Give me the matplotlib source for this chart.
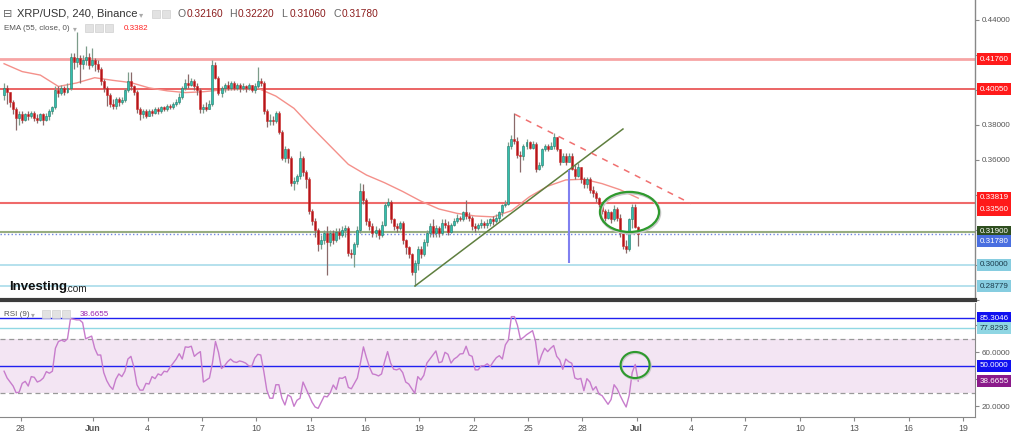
import numpy as np
import matplotlib
matplotlib.use("Agg")
import matplotlib.pyplot as plt
from matplotlib.patches import Ellipse, Rectangle

# ---------------- data ----------------
bars_per_day = 6
first_open = 0.397
closes = [
    .401, .399, .393, .389, .384, .386, .383, .386, .385, .387,
    .384, .383, .386, .383, .385, .388, .390, .400, .398, .401,
    .399, .401, .419, .416, .418, .415, .417, .419, .414, .417,
    .415, .412, .405, .401, .397, .392, .391, .395, .393, .394,
    .400, .405, .402, .399, .389, .386, .388, .385, .388, .387,
    .389, .388, .390, .389, .391, .390, .392, .393, .396, .401,
    .404, .403, .405, .402, .400, .389, .390, .389, .392, .414,
    .407, .398, .401, .403, .401, .404, .401, .403, .401, .402,
    .401, .403, .400, .402, .405, .404, .388, .382, .383, .382,
    .387, .376, .361, .366, .361, .347, .348, .351, .361, .353,
    .349, .331, .325, .320, .312, .314, .318, .313, .318, .314,
    .319, .317, .320, .321, .307, .306, .312, .320, .342, .337,
    .325, .322, .318, .320, .317, .323, .334, .336, .326, .322,
    .321, .324, .314, .310, .306, .296, .301, .309, .306, .313,
    .318, .322, .318, .321, .318, .324, .323, .319, .323, .325,
    .327, .326, .330, .328, .327, .322, .321, .323, .324, .323,
    .324, .326, .325, .327, .330, .334, .335, .368, .372, .371,
    .363, .362, .368, .370, .367, .369, .355, .357, .366, .368,
    .366, .368, .373, .366, .359, .362, .359, .362, .355, .351,
    .356, .349, .346, .349, .343, .341, .338, .335, .331, .327,
    .330, .326, .332, .327, .318, .311, .309, .326, .333, .3216,
    .3178,
]
highs = [
    .404, .403, .399, .394, .390, .388, .388, .387, .388, .388,
    .388, .386, .387, .387, .387, .389, .391, .402, .402, .403,
    .402, .404, .421, .421, .433, .420, .420, .425, .421, .424,
    .418, .417, .413, .406, .402, .398, .395, .396, .396, .396,
    .401, .410, .410, .403, .400, .390, .389, .389, .389, .389,
    .390, .390, .391, .391, .392, .392, .393, .395, .398, .402,
    .406, .409, .407, .406, .404, .401, .392, .393, .394, .417,
    .416, .408, .402, .404, .405, .405, .405, .404, .404, .404,
    .403, .404, .403, .404, .413, .407, .405, .389, .386, .385,
    .388, .388, .377, .368, .367, .362, .350, .352, .365, .362,
    .354, .350, .332, .327, .321, .317, .320, .322, .320, .320,
    .321, .321, .322, .323, .322, .309, .313, .322, .347, .346,
    .338, .327, .324, .322, .321, .325, .336, .338, .337, .327,
    .324, .325, .325, .315, .311, .307, .303, .311, .311, .315,
    .320, .324, .326, .323, .322, .326, .326, .325, .324, .327,
    .329, .328, .331, .337, .330, .328, .324, .324, .326, .325,
    .326, .327, .328, .329, .331, .335, .337, .370, .374, .387,
    .373, .365, .369, .372, .371, .371, .370, .359, .367, .369,
    .369, .370, .3754, .373, .366, .364, .364, .364, .364, .357,
    .358, .356, .350, .350, .350, .345, .342, .339, .336, .332,
    .332, .331, .334, .333, .329, .319, .314, .327, .335, .3349,
    .3222,
]
lows = [
    .394, .392, .390, .386, .377, .380, .381, .382, .383, .384,
    .382, .381, .382, .380, .382, .383, .386, .389, .396, .397,
    .397, .398, .400, .412, .413, .404, .412, .414, .412, .413,
    .411, .410, .403, .399, .391, .390, .389, .389, .391, .392,
    .393, .399, .400, .397, .387, .383, .384, .384, .385, .385,
    .386, .386, .387, .388, .388, .389, .389, .391, .392, .395,
    .400, .401, .402, .400, .397, .387, .387, .388, .389, .391,
    .406, .397, .396, .399, .400, .400, .400, .400, .399, .400,
    .399, .400, .399, .398, .401, .402, .386, .379, .380, .380,
    .381, .375, .360, .359, .358, .345, .343, .346, .349, .351,
    .344, .329, .323, .316, .308, .309, .312, .294, .311, .312,
    .313, .315, .316, .316, .305, .304, .299, .310, .318, .335,
    .323, .320, .316, .316, .315, .316, .322, .333, .324, .320,
    .319, .320, .312, .306, .304, .294, .2878, .297, .304, .305,
    .311, .316, .316, .316, .316, .317, .321, .317, .318, .322,
    .324, .325, .325, .326, .325, .320, .319, .320, .321, .321,
    .321, .322, .323, .324, .325, .328, .333, .334, .366, .369,
    .361, .353, .360, .366, .366, .366, .353, .354, .356, .365,
    .365, .366, .366, .365, .357, .359, .357, .360, .354, .349,
    .350, .347, .344, .344, .341, .339, .336, .333, .329, .325,
    .326, .324, .325, .325, .316, .309, .307, .308, .321, .321,
    .3106,
]
rsi = [
    46, 41, 38, 35, 30, 30.5, 37, 38.5, 35, 42,
    41.5, 38, 39, 41, 45.7, 44.5, 46, 63, 68, 69,
    68, 70, 85, 84.5, 84, 84, 82, 70, 71, 72,
    63, 58, 58, 45, 39, 35, 32.5, 40, 44, 42,
    46, 55, 57, 49, 36, 32, 32, 37, 36.5, 42,
    40.5, 44, 43, 46, 45.5, 49, 52, 55, 59, 55,
    64, 63.7, 64.5, 57, 59, 60.5, 38, 39.5, 41, 52,
    68, 60, 48, 50, 53, 55, 53, 52.5, 53.6, 53,
    52, 50, 49.5, 55.6, 58.5, 58, 46, 32, 26, 26,
    36, 36, 26, 21, 28.5, 27, 20, 24.5, 26, 38,
    33, 28, 23, 19.5, 18.5, 23, 27.5, 27, 30, 35.8,
    32.5, 41, 40.7, 42, 34, 33, 37, 41, 52, 64,
    56, 49, 44, 43.5, 42.5, 44, 53, 60.5, 52, 47.5,
    47, 48, 45, 38, 36.5, 33, 29.6, 42, 39.5, 43,
    52, 55, 58, 61, 52.3, 53, 60, 58.5, 52, 55,
    56.5, 58.8, 59, 64.5, 58, 57, 47, 47, 50, 50,
    51.5, 49.5, 53, 56, 57.5, 55, 65.5, 69, 86.4, 86.4,
    80, 69.6, 71, 73, 74.5, 76, 68, 51, 58, 63,
    60.5, 63, 65, 57, 54.3, 47.4, 55, 53, 51.9, 41,
    40, 40.7, 31.6, 40.5, 38, 32, 34.6, 29, 28, 24.7,
    21.5, 25, 36, 33, 28, 23.5, 19.5, 28, 45, 51,
    38.6655,
]
ema_step = 6  # one EMA reading per day
ema_vals = [
    .4150, .4105, .4085, .4020, .4040, .4070, .4055, .4042, .4012, .3995,
    .3985, .3990, .4000, .4004, .4010, .3965, .3895, .3785, .3680, .3575,
    .3514, .3470, .3420, .3365, .3320, .3295, .3280, .3275, .3310, .3390,
    .3450, .3486, .3490, .3465, .3430, .3382,
]

tick_days = [1, 5, 8, 11, 14, 17, 20, 23, 26, 29, 32, 35, 38, 41, 44, 47, 50, 53]
tick_labels = ["28", "Jun", "4", "7", "10", "13", "16", "19", "22", "25", "28",
               "Jul", "4", "7", "10", "13", "16", "19"]

price_ticks = [0.28, 0.30, 0.32, 0.34, 0.36, 0.38, 0.40, 0.42, 0.44]
price_tick_labels = ["", "", "", "", "0.36000", "0.38000", "", "", "0.44000"]
rsi_ticks = [20, 40, 60, 80]
rsi_tick_labels = ["20.0000", "", "60.0000", ""]

# horizontal price levels: value, colour, width, style
h_levels = [0.41760, 0.40050, 0.33560, 0.31900, 0.31780, 0.30000, 0.28779]
h_colors = ["#f7a5a5", "#e84a4a", "#ef6a6a", "#98ad80", "#6f86e0", "#a9dcea", "#a9dcea"]
h_widths = [2.0, 1.2, 1.5, 1.5, 1.0, 1.2, 1.2]
h_styles = ["-", "-", "-", "-", ":", "-", "-"]

# price scale labels: text value, display position, face, text colour
lab_vals = ["0.41760", "0.40050", "0.33819", "0.33560", "0.31900", "0.31780", "0.30000", "0.28779"]
lab_pos = [0.41760, 0.40050, 0.33830, 0.33175, 0.31900, 0.31350, 0.30000, 0.28779]
lab_face = ["#ff1a1a", "#ff1a1a", "#ff1a1a", "#ff1a1a", "#2f4f1f", "#4a6fe0", "#86cde0", "#86cde0"]
lab_txt = ["white", "white", "white", "white", "white", "white", "#1a3a4a", "#1a3a4a"]

# drawings (day, price)
trend_up = ([22.76, 34.24], [0.2880, 0.3777])
trend_down = ([28.28, 37.99], [0.3861, 0.3351])
vline_day, vline_lo, vline_hi = 31.28, 0.3011, 0.3543
ell_price = (34.60, 0.3303, 3.26, 0.0229)
ell_rsi = (34.91, 50.6, 1.60, 19.3)

rsi_levels = [85.3046, 77.8293, 50.0]
rsi_lab_vals = ["85.3046", "77.8293", "50.0000", "38.6655"]
rsi_lab_pos = [85.3046, 77.8293, 50.0, 38.6655]
rsi_lab_face = ["#1010f0", "#8fd6e3", "#1010f0", "#8a1a8a"]
rsi_lab_txt = ["white", "#1a3a4a", "white", "white"]

# ---------------- figure ----------------
W, H = 1024, 432
fig = plt.figure(figsize=(W / 100, H / 100), dpi=100)
fig.patch.set_facecolor("white")
AXF = "Liberation Sans"
AX_FS = 5.8

ax = fig.add_axes([0, 1 - 300 / H, 975 / W, 300 / H])
ax2 = fig.add_axes([0, 1 - 417 / H, 975 / W, 114 / H], sharex=ax)

n = len(closes)
t = np.arange(n) / bars_per_day + 1 / 12
opens = np.array([first_open] + closes[:-1])
c = np.array(closes)
hi = np.array(highs)
lo = np.array(lows)
up = c >= opens

# horizontal levels
for v, col, lw, ls in zip(h_levels, h_colors, h_widths, h_styles):
    ax.axhline(v, color=col, lw=lw, ls=ls, zorder=1)

# EMA
t_ema = np.arange(len(ema_vals)) * ema_step / bars_per_day + 1 / 12
ax.plot(t_ema, ema_vals, color="#f4908a", lw=1.0, zorder=2)

# candles
wick_col = np.where(up, "#7d9c8a", "#8a6a6a")
ax.vlines(t, lo, hi, colors=wick_col, lw=0.9, zorder=3)
bw = 0.66 / bars_per_day
bottoms = np.minimum(opens, c)
heights = np.maximum(np.abs(c - opens), 0.0005)
ax.bar(t[up], heights[up], bw, bottom=bottoms[up], color="#33bfae",
       edgecolor="#1f7a6a", lw=0.4, zorder=4)
ax.bar(t[~up], heights[~up], bw, bottom=bottoms[~up], color="#b3161b",
       edgecolor="#d43030", lw=0.4, zorder=4)

# drawings
ax.plot(*trend_up, color="#5f7f3f", lw=1.1, zorder=5)
ax.plot(*trend_down, color="#f07070", lw=1.1, ls=(0, (4, 4)), zorder=5)
ax.vlines([vline_day], vline_lo, vline_hi, colors="#8080f0", lw=1.5, zorder=5)
ex, ey, ew, eh = ell_price
ax.add_patch(Ellipse((ex + 0.04, ey - 0.0006), ew, eh, fill=False, ec="#c8c8c8", lw=2.2, zorder=5))
ax.add_patch(Ellipse((ex, ey), ew, eh, fill=False, ec="#2e9a2e", lw=1.6, zorder=6))

ax.set_xlim(-0.142, 53.67)
ax.set_ylim(0.28, 0.4514)
for s in ["left", "top"]:
    ax.spines[s].set_visible(False)
ax.spines["right"].set_color("#888888")
ax.spines["right"].set_linewidth(1.0)
ax.spines["bottom"].set_color("#3c3c3c")
ax.spines["bottom"].set_linewidth(3.0)
ax.yaxis.tick_right()
ax.set_yticks(price_ticks)
ax.set_yticklabels(price_tick_labels)
ax.tick_params(axis="y", length=3, width=0.8, color="#888888", pad=1.5,
               labelsize=AX_FS, labelcolor="#555555")
for lb in ax.get_yticklabels():
    lb.set_family(AXF)
ax.tick_params(axis="x", bottom=False, labelbottom=False)

for txt, pos, fc, tc in zip(lab_vals, lab_pos, lab_face, lab_txt):
    ax.annotate(txt, xy=(1, pos), xycoords=("axes fraction", "data"),
                xytext=(3.2, 0), textcoords="offset points", ha="left", va="center",
                fontsize=AX_FS, family=AXF, color=tc, annotation_clip=False, zorder=10,
                bbox=dict(boxstyle="square,pad=0.32", fc=fc, ec="none"))

# ---------------- RSI panel ----------------
ax2.axhspan(30, 70, color="#f3e5f3", zorder=0, lw=0)
ax2.axhline(70, color="#999999", lw=0.9, ls=(0, (4, 3)), zorder=1)
ax2.axhline(30, color="#999999", lw=0.9, ls=(0, (4, 3)), zorder=1)
ax2.axhline(rsi_levels[0], color="#2020f0", lw=1.0, zorder=1)
ax2.axhline(rsi_levels[1], color="#90d8e4", lw=1.0, zorder=1)
ax2.axhline(rsi_levels[2], color="#2020f0", lw=1.0, zorder=1)
ax2.plot(t, rsi, color="#c77ccc", lw=1.0, zorder=3)
rx, ry, rw, rh = ell_rsi
ax2.add_patch(Ellipse((rx + 0.04, ry - 0.6), rw, rh, fill=False, ec="#c8c8c8", lw=2.0, zorder=4))
ax2.add_patch(Ellipse((rx, ry), rw, rh, fill=False, ec="#2e9a2e", lw=1.5, zorder=5))

ax2.set_ylim(12.1, 96.5)
for s in ["left", "top"]:
    ax2.spines[s].set_visible(False)
ax2.spines["right"].set_color("#888888")
ax2.spines["bottom"].set_color("#888888")
ax2.yaxis.tick_right()
ax2.set_yticks(rsi_ticks)
ax2.set_yticklabels(rsi_tick_labels)
ax2.tick_params(axis="y", length=3, width=0.8, color="#888888", pad=1.5,
                labelsize=AX_FS, labelcolor="#555555")
ax2.set_xticks(tick_days)
ax2.set_xticklabels(tick_labels)
ax2.tick_params(axis="x", length=3, width=0.8, color="#888888", pad=2,
                labelsize=6.3, labelcolor="#555555")
for lb in ax2.get_xticklabels() + ax2.get_yticklabels():
    lb.set_family(AXF)
    if lb.get_text() in ("Jun", "Jul"):
        lb.set_fontweight("bold")

for txt, pos, fc, tc in zip(rsi_lab_vals, rsi_lab_pos, rsi_lab_face, rsi_lab_txt):
    ax2.annotate(txt, xy=(1, pos), xycoords=("axes fraction", "data"),
                 xytext=(3.2, 0), textcoords="offset points", ha="left", va="center",
                 fontsize=AX_FS, family=AXF, color=tc, annotation_clip=False, zorder=10,
                 bbox=dict(boxstyle="square,pad=0.32", fc=fc, ec="none"))

# ---------------- legends / watermark ----------------
def ftxt(x, y, s, **kw):
    kw.setdefault("family", AXF)
    fig.text(x / W, 1 - y / H, s, va="center", ha="left", **kw)

def icon(x, y, size=8):
    fig.patches.append(Rectangle((x / W, 1 - (y + size / 2) / H), size / W, size / H,
                                 transform=fig.transFigure, fc="#e2e2e2", ec="#d0d0d0",
                                 lw=0.5, figure=fig))

ftxt(3, 14, "\u229f", fontsize=8, color="#666666", family="DejaVu Sans")
ftxt(17, 14, "XRP/USD, 240, Binance", fontsize=8, color="#333333")
ftxt(139, 15, "\u25be", fontsize=6, color="#aaaaaa", family="DejaVu Sans")
icon(152, 14, 8); icon(162, 14, 8)
ohlc_x = [178, 229, 281, 333]
ohlc_k = ["O", "H", "L", "C"]
ohlc_v = ["0.32160", "0.32220", "0.31060", "0.31780"]
for x, k, v in zip(ohlc_x, ohlc_k, ohlc_v):
    ftxt(x, 14, k, fontsize=7.6, color="#666666")
    ftxt(x + 8.5, 14, v, fontsize=7.3, color="#8b1c1c")

ftxt(4, 28, "EMA (55, close, 0)", fontsize=5.8, color="#555555")
ftxt(73, 28.5, "\u25be", fontsize=5.5, color="#aaaaaa", family="DejaVu Sans")
icon(85, 28, 8); icon(95, 28, 8); icon(105, 28, 8)
ftxt(124, 28, "0.3382", fontsize=5.8, color="#ff2020")

ftxt(4, 314, "RSI (9)", fontsize=5.8, color="#555555")
ftxt(31, 314.5, "\u25be", fontsize=5.5, color="#aaaaaa", family="DejaVu Sans")
icon(42, 314, 8); icon(52, 314, 8); icon(62, 314, 8)
ftxt(80, 314, "38.6655", fontsize=5.8, color="#9c27b0")

ftxt(9, 287, "Investing", fontsize=9.5, fontweight="bold", color="#111111")
ftxt(65, 288.5, ".com", fontsize=7.2, color="#222222")

fig.savefig("out.png", dpi=100, facecolor="white")
